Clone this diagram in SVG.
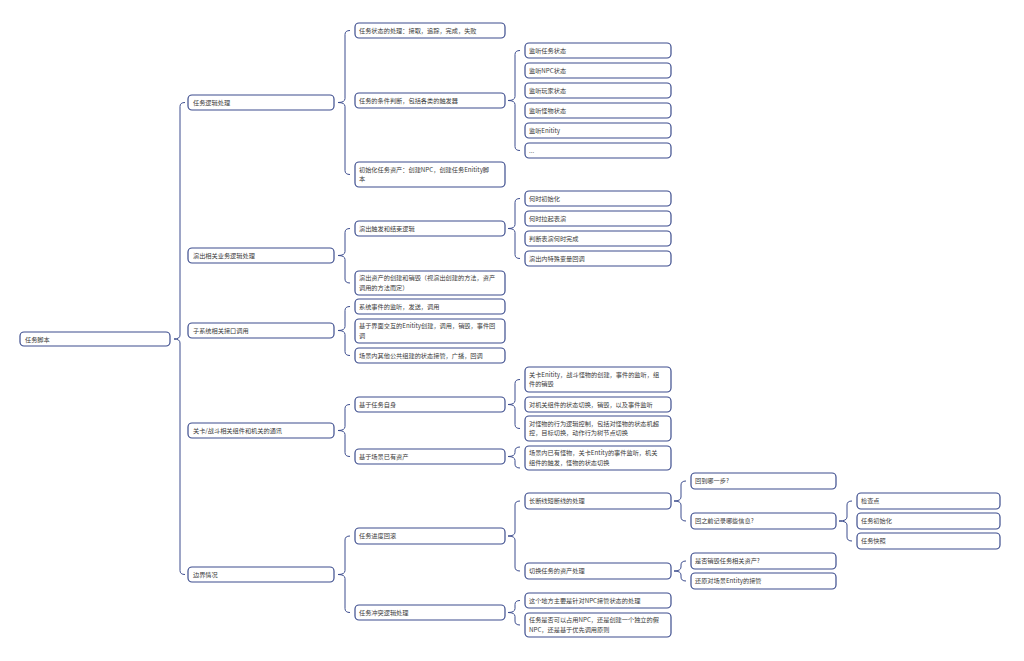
<svg xmlns="http://www.w3.org/2000/svg" width="1024" height="661" viewBox="0 0 1024 661">
<style>
rect{fill:#fff;stroke:#3d4d8e;stroke-width:1.2}
text{font-family:"Noto Sans CJK SC","Liberation Sans",sans-serif;font-size:6.2px;fill:#3a3a3a}
.c path{fill:none;stroke:#3d4d8e;stroke-width:1}
</style>
<rect x="0" y="0" width="1024" height="661" style="fill:#fff;stroke:none"/>
<g class="c" id="connectors">
<path d="M185 102.5 Q180 102.5 180 106.5 L180 335 Q180 339 174 339 Q180 339 180 343 L180 570.5 Q180 574.5 185 574.5"/>
<path d="M350 30.5 Q345 30.5 345 34.5 L345 98.5 Q345 102.5 338 102.5 Q345 102.5 345 106.5 L345 170.5 Q345 174.5 350 174.5"/>
<path d="M520 50.5 Q515 50.5 515 54.5 L515 96.5 Q515 100.5 508 100.5 Q515 100.5 515 104.5 L515 146.5 Q515 150.5 520 150.5"/>
<path d="M350 228.5 Q345 228.5 345 232.5 L345 251.5 Q345 255.5 338 255.5 Q345 255.5 345 259.5 L345 279 Q345 283 350 283"/>
<path d="M520 198.5 Q515 198.5 515 202.5 L515 224.5 Q515 228.5 508 228.5 Q515 228.5 515 232.5 L515 254.5 Q515 258.5 520 258.5"/>
<path d="M350 306.5 Q345 306.5 345 310.5 L345 326.5 Q345 330.5 338 330.5 Q345 330.5 345 334.5 L345 351.5 Q345 355.5 350 355.5"/>
<path d="M350 404.5 Q345 404.5 345 408.5 L345 426.5 Q345 430.5 338 430.5 Q345 430.5 345 434.5 L345 452.5 Q345 456.5 350 456.5"/>
<path d="M520 379.5 Q515 379.5 515 383.5 L515 400.5 Q515 404.5 508 404.5 Q515 404.5 515 408.5 L515 424.5 Q515 428.5 520 428.5"/>
<path d="M520 447 Q515 447 515 451 L515 452.5 Q515 456.5 508 456.5 Q515 456.5 515 460.5 L515 464 Q515 468 520 468"/>
<path d="M350 536 Q345 536 345 540 L345 570.5 Q345 574.5 338 574.5 Q345 574.5 345 578.5 L345 608.5 Q345 612.5 350 612.5"/>
<path d="M520 501 Q515 501 515 505 L515 532 Q515 536 508 536 Q515 536 515 540 L515 567 Q515 571 520 571"/>
<path d="M520 600.5 Q515 600.5 515 604.5 L515 608.5 Q515 612.5 508 612.5 Q515 612.5 515 616.5 L515 621 Q515 625 520 625"/>
<path d="M686 481 Q681 481 681 485 L681 497 Q681 501 674 501 Q681 501 681 505 L681 517 Q681 521 686 521"/>
<path d="M852 501 Q847 501 847 505 L847 517 Q847 521 839 521 Q847 521 847 525 L847 537 Q847 541 852 541"/>
<path d="M686 561 Q681 561 681 565 L681 567 Q681 571 674 571 Q681 571 681 575 L681 577 Q681 581 686 581"/>
</g>
<g id="root"><rect x="20" y="332" width="150" height="14" rx="4"/><text x="25" y="341.5">任务脚本</text></g>
<g id="n1"><rect x="188" y="95" width="146" height="15" rx="4"/><text x="193" y="104.5">任务逻辑处理</text></g>
<g id="n2"><rect x="188" y="248" width="146" height="15" rx="4"/><text x="193" y="257.5">演出相关业务逻辑处理</text></g>
<g id="n3"><rect x="188" y="323" width="146" height="15" rx="4"/><text x="193" y="332.5">子系统相关接口调用</text></g>
<g id="n4"><rect x="188" y="423" width="146" height="15" rx="4"/><text x="193" y="432.5">关卡/战斗相关组件和机关的通讯</text></g>
<g id="n5"><rect x="188" y="567" width="146" height="15" rx="4"/><text x="193" y="576.5">边界情况</text></g>
<g id="n1a"><rect x="355" y="23" width="150" height="15" rx="4"/><text x="359" y="32.5">任务状态的处理：接取，追踪，完成，失败</text></g>
<g id="n1b"><rect x="355" y="93" width="150" height="15" rx="4"/><text x="359" y="102.5">任务的条件判断，包括各类的触发器</text></g>
<g id="n1c"><rect x="355" y="162" width="150" height="25" rx="4"/><text x="359" y="171.5">初始化任务资产：创建NPC，创建任务Enitity脚</text><text x="359" y="181">本</text></g>
<g id="n1b1"><rect x="525" y="43" width="146" height="15" rx="4"/><text x="529" y="52.5">监听任务状态</text></g>
<g id="n1b2"><rect x="525" y="63" width="146" height="15" rx="4"/><text x="529" y="72.5">监听NPC状态</text></g>
<g id="n1b3"><rect x="525" y="83" width="146" height="15" rx="4"/><text x="529" y="92.5">监听玩家状态</text></g>
<g id="n1b4"><rect x="525" y="103" width="146" height="15" rx="4"/><text x="529" y="112.5">监听怪物状态</text></g>
<g id="n1b5"><rect x="525" y="123" width="146" height="15" rx="4"/><text x="529" y="132.5">监听Enitity</text></g>
<g id="n1b6"><rect x="525" y="143" width="146" height="15" rx="4"/><text x="529" y="152.5">...</text></g>
<g id="n2a"><rect x="355" y="221" width="150" height="15" rx="4"/><text x="359" y="230.5">演出触发和结束逻辑</text></g>
<g id="n2b"><rect x="355" y="271" width="150" height="24" rx="4"/><text x="359" y="280">演出资产的创建和销毁（视演出创建的方法，资产</text><text x="359" y="289.5">调用的方法而定）</text></g>
<g id="n2a1"><rect x="525" y="191" width="146" height="15" rx="4"/><text x="529" y="200.5">何时初始化</text></g>
<g id="n2a2"><rect x="525" y="211" width="146" height="15" rx="4"/><text x="529" y="220.5">何时拉起表演</text></g>
<g id="n2a3"><rect x="525" y="231" width="146" height="15" rx="4"/><text x="529" y="240.5">判断表演何时完成</text></g>
<g id="n2a4"><rect x="525" y="251" width="146" height="15" rx="4"/><text x="529" y="260.5">演出内特殊变量回调</text></g>
<g id="n3a"><rect x="355" y="299" width="150" height="15" rx="4"/><text x="359" y="308.5">系统事件的监听，发送，调用</text></g>
<g id="n3b"><rect x="355" y="319" width="150" height="24" rx="4"/><text x="359" y="328">基于界面交互的Enitity创建，调用，销毁，事件回</text><text x="359" y="337.5">调</text></g>
<g id="n3c"><rect x="355" y="348" width="150" height="15" rx="4"/><text x="359" y="357.5">场景内其他公共组建的状态接管，广播，回调</text></g>
<g id="n4a"><rect x="355" y="397" width="150" height="15" rx="4"/><text x="359" y="406.5">基于任务自身</text></g>
<g id="n4b"><rect x="355" y="449" width="150" height="15" rx="4"/><text x="359" y="458.5">基于场景已有资产</text></g>
<g id="n4a1"><rect x="525" y="367" width="146" height="25" rx="4"/><text x="529" y="376.5">关卡Enitity，战斗怪物的创建，事件的监听，组</text><text x="529" y="386">件的销毁</text></g>
<g id="n4a2"><rect x="525" y="397" width="146" height="15" rx="4"/><text x="529" y="406.5">对机关组件的状态切换，销毁，以及事件监听</text></g>
<g id="n4a3"><rect x="525" y="416" width="146" height="25" rx="4"/><text x="529" y="425.5">对怪物的行为逻辑控制，包括对怪物的状态机超</text><text x="529" y="435">控，目标切换，动作行为树节点切换</text></g>
<g id="n4b1"><rect x="525" y="446" width="146" height="24" rx="4"/><text x="529" y="455">场景内已有怪物，关卡Entity的事件监听，机关</text><text x="529" y="464.5">组件的触发，怪物的状态切换</text></g>
<g id="n5a"><rect x="355" y="528" width="150" height="16" rx="4"/><text x="359" y="538">任务进度回滚</text></g>
<g id="n5b"><rect x="355" y="605" width="150" height="15" rx="4"/><text x="359" y="614.5">任务冲突逻辑处理</text></g>
<g id="n5a1"><rect x="525" y="493" width="146" height="16" rx="4"/><text x="529" y="503">长断线短断线的处理</text></g>
<g id="n5a2"><rect x="525" y="563" width="146" height="16" rx="4"/><text x="529" y="573">切换任务的资产处理</text></g>
<g id="n5b1"><rect x="525" y="593" width="146" height="15" rx="4"/><text x="529" y="602.5">这个地方主要是针对NPC接管状态的处理</text></g>
<g id="n5b2"><rect x="525" y="613" width="146" height="24" rx="4"/><text x="529" y="622">任务是否可以占用NPC，还是创建一个独立的假</text><text x="529" y="631.5">NPC，还是基于优先调用原则</text></g>
<g id="n5a1a"><rect x="691" y="473" width="145" height="16" rx="4"/><text x="695" y="483">回到哪一步?</text></g>
<g id="n5a1b"><rect x="691" y="513" width="145" height="16" rx="4"/><text x="695" y="523">回之前记录哪些信息?</text></g>
<g id="n5a2a"><rect x="691" y="553" width="145" height="16" rx="4"/><text x="695" y="563">是否销毁任务相关资产?</text></g>
<g id="n5a2b"><rect x="691" y="573" width="145" height="16" rx="4"/><text x="695" y="583">还原对场景Entity的接管</text></g>
<g id="n5a1b1"><rect x="857" y="493" width="143" height="16" rx="4"/><text x="861" y="503">检查点</text></g>
<g id="n5a1b2"><rect x="857" y="513" width="143" height="16" rx="4"/><text x="861" y="523">任务初始化</text></g>
<g id="n5a1b3"><rect x="857" y="533" width="143" height="16" rx="4"/><text x="861" y="543">任务快照</text></g>
</svg>
